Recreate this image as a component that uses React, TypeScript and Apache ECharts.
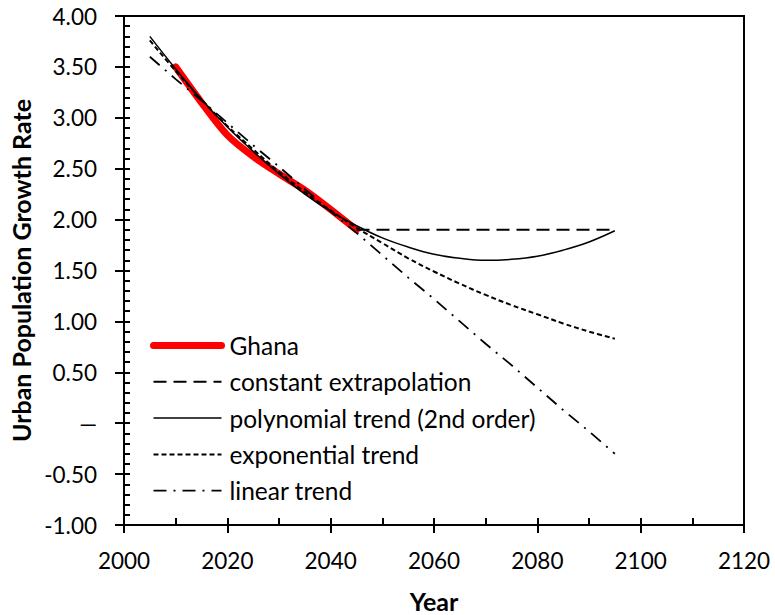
import React, { useEffect, useRef } from "react";
import * as echarts from "echarts";

const ghanaYears = [2010, 2015, 2020, 2025, 2030, 2035, 2040, 2045];
const ghanaValues = [3.5, 3.15, 2.83, 2.62, 2.45, 2.29, 2.1, 1.9];

const trendYears = [2005, 2010, 2015, 2020, 2025, 2030, 2035, 2040, 2045, 2050, 2055, 2060, 2065, 2070, 2075, 2080, 2085, 2090, 2095];
const polynomialValues = [3.8, 3.48, 3.18, 2.91, 2.67, 2.45, 2.25, 2.08, 1.94, 1.82, 1.73, 1.66, 1.62, 1.6, 1.61, 1.64, 1.7, 1.78, 1.89];
const exponentialValues = [3.76, 3.46, 3.18, 2.92, 2.69, 2.47, 2.27, 2.09, 1.92, 1.77, 1.62, 1.49, 1.37, 1.26, 1.16, 1.07, 0.98, 0.9, 0.83];
const linearValues = [3.6, 3.38, 3.17, 2.95, 2.73, 2.52, 2.3, 2.08, 1.87, 1.65, 1.43, 1.22, 1.0, 0.78, 0.57, 0.35, 0.13, -0.08, -0.3];

const constantYears = [2045, 2050, 2055, 2060, 2065, 2070, 2075, 2080, 2085, 2090, 2095];
const constantValues = [1.9, 1.9, 1.9, 1.9, 1.9, 1.9, 1.9, 1.9, 1.9, 1.9, 1.9];

const seriesNames = ["Ghana", "constant extrapolation", "polynomial trend (2nd order)", "exponential trend", "linear trend"];

const FONT = "Lato, 'Open Sans', sans-serif";

function pairs(xs: number[], ys: number[]) {
  return xs.map((x, i) => [x, ys[i]]);
}

export default function App() {
  const ref = useRef<HTMLDivElement>(null);
  useEffect(() => {
    if (!ref.current) return;
    const chart = echarts.init(ref.current, null, { renderer: "svg" });
    const axisLine = { show: true, onZero: false, lineStyle: { color: "#000", width: 2 } };
    const styles = [
      { color: "#ff0000", width: 7, type: "solid" as any, cap: "round" },
      { color: "#000", width: 2, type: [13, 7] as any, cap: "butt" },
      { color: "#000", width: 1.5, type: "solid" as any, cap: "butt" },
      { color: "#000", width: 2, type: [5, 3] as any, cap: "butt" },
      { color: "#000", width: 1.8, type: [13, 7, 2, 7] as any, cap: "butt" },
    ];
    chart.setOption({
      animation: false,
      backgroundColor: "#fff",
      grid: {
        left: 124,
        right: 31,
        top: 16,
        bottom: 90,
        show: true,
        borderColor: "#000",
        borderWidth: 2,
        backgroundColor: "transparent",
        containLabel: false,
        outerBoundsMode: "none",
      },
      legend: {
        orient: "vertical",
        left: 150,
        top: 333,
        padding: 0,
        itemWidth: 68,
        itemHeight: 24,
        itemGap: 11.3,
        data: seriesNames.map((name, i) => ({
          name,
          lineStyle: { width: styles[i].width, color: styles[i].color, type: styles[i].type, cap: styles[i].cap },
        })),
        itemStyle: { opacity: 0 },
        textStyle: { fontFamily: FONT, fontSize: 24.5, color: "#000", padding: [0, 0, 0, 3] },
      },
      xAxis: [
        {
          type: "value",
          position: "bottom",
          min: 2000,
          max: 2120,
          interval: 20,
          axisLine,
          axisTick: { show: true, inside: true, length: 7, lineStyle: { color: "#000", width: 2 } },
          minorTick: { show: true, splitNumber: 2, length: 7, lineStyle: { color: "#000", width: 2 } },
          splitLine: { show: false },
          axisLabel: {
            margin: 24,
            fontFamily: FONT,
            fontSize: 22.5,
            color: "#000",
            formatter: (v: number) => String(v),
          },
          name: "Year",
          nameLocation: "middle",
          nameGap: 63,
          nameTextStyle: { fontFamily: FONT, fontSize: 25, fontWeight: "bold", color: "#000" },
        },
        {
          type: "value",
          position: "bottom",
          min: 2000,
          max: 2120,
          interval: 20,
          axisLine: { show: false, onZero: false },
          axisTick: { show: true, inside: false, length: 8, lineStyle: { color: "#000", width: 2 } },
          axisLabel: { show: false },
          splitLine: { show: false },
        },
      ],
      yAxis: [
        {
          type: "value",
          position: "left",
          min: -1,
          max: 4,
          interval: 0.5,
          axisLine,
          axisTick: { show: true, inside: true, length: 6, lineStyle: { color: "#000", width: 2 } },
          minorTick: { show: true, splitNumber: 5, length: 6, lineStyle: { color: "#000", width: 2 } },
          splitLine: { show: false },
          axisLabel: {
            margin: 27,
            fontFamily: FONT,
            fontSize: 22.5,
            color: "#000",
            formatter: (v: number) => (Math.abs(v) < 1e-9 ? "\u2014" : v.toFixed(2)),
          },
          name: "Urban Population Growth Rate",
          nameLocation: "middle",
          nameGap: 88,
          nameTextStyle: { fontFamily: FONT, fontSize: 25, fontWeight: "bold", color: "#000" },
        },
        {
          type: "value",
          position: "left",
          min: -1,
          max: 4,
          interval: 0.5,
          axisLine: { show: false, onZero: false },
          axisTick: { show: true, inside: false, length: 9, lineStyle: { color: "#000", width: 2 } },
          axisLabel: { show: false },
          splitLine: { show: false },
        },
      ],
      series: [
        {
          name: seriesNames[0],
          type: "line",
          symbol: "none",
          smooth: 0.3,
          data: pairs(ghanaYears, ghanaValues),
          lineStyle: { color: styles[0].color, width: styles[0].width, cap: "round", join: "round" },
          itemStyle: { color: "#ff0000" },
        },
        {
          name: seriesNames[1],
          type: "line",
          symbol: "none",
          data: pairs(constantYears, constantValues),
          lineStyle: { color: "#000", width: styles[1].width, type: styles[1].type },
          itemStyle: { color: "#000" },
        },
        {
          name: seriesNames[2],
          type: "line",
          symbol: "none",
          smooth: 0.4,
          data: pairs(trendYears, polynomialValues),
          lineStyle: { color: "#000", width: styles[2].width, type: "solid" },
          itemStyle: { color: "#000" },
        },
        {
          name: seriesNames[3],
          type: "line",
          symbol: "none",
          smooth: 0.4,
          data: pairs(trendYears, exponentialValues),
          lineStyle: { color: "#000", width: styles[3].width, type: styles[3].type },
          itemStyle: { color: "#000" },
        },
        {
          name: seriesNames[4],
          type: "line",
          symbol: "none",
          data: pairs(trendYears, linearValues),
          lineStyle: { color: "#000", width: styles[4].width, type: styles[4].type },
          itemStyle: { color: "#000" },
        },
      ],
    });
    return () => chart.dispose();
  }, []);
  return <div ref={ref} style={{ position: "absolute", left: 0, top: 0, width: 775, height: 615 }} />;
}
